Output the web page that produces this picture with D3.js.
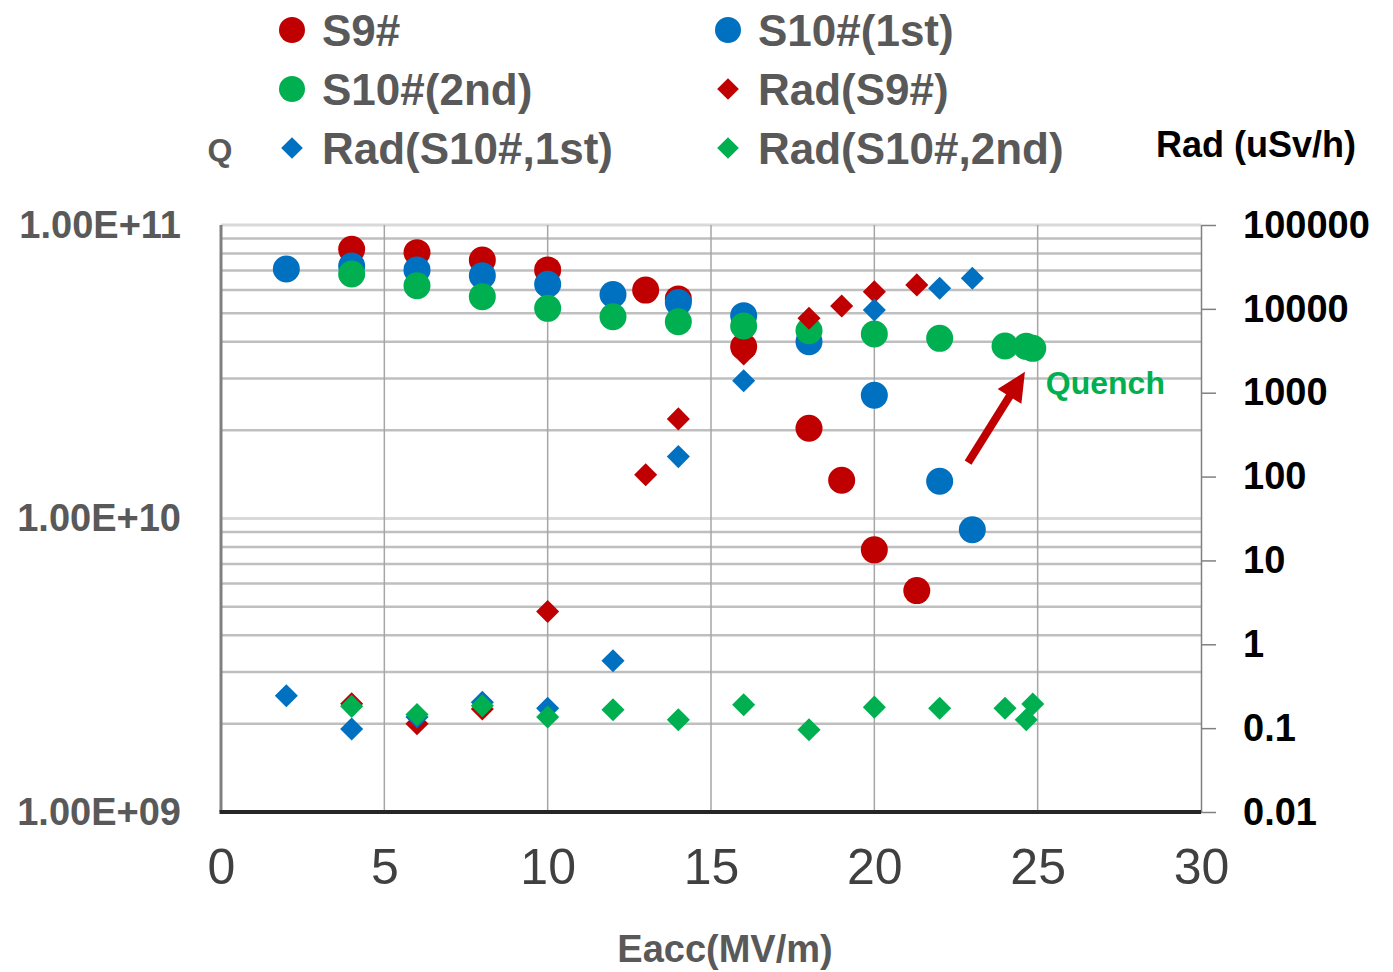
<!DOCTYPE html>
<html>
<head>
<meta charset="utf-8">
<script src="https://cdn.jsdelivr.net/npm/d3@7"></script>
<style>
  body { margin: 0; background: #fff; }
  svg text { font-family: "Liberation Sans", Arial, sans-serif; }
</style>
</head>
<body>
<div id="chart"></div>
<script>
// Eacc (MV/m) and Q0 values
const s9X = [4, 6, 8, 10, 13, 14, 16, 18, 19, 20, 21.3];
const s9Q = [8.26e10, 8.05e10, 7.6e10, 7.03e10, 6.0e10, 5.6e10, 3.85e10, 2.03e10, 1.35e10, 7.82e9, 5.68e9];

const s10aX = [2, 4, 6, 8, 10, 12, 14, 16, 18, 20, 22, 23];
const s10aQ = [7.08e10, 7.25e10, 7.03e10, 6.72e10, 6.28e10, 5.8e10, 5.44e10, 4.91e10, 4.0e10, 2.63e10, 1.34e10, 9.15e9];

const s10bX = [4, 6, 8, 10, 12, 14, 16, 18, 20, 22, 24, 24.65, 24.85];
const s10bQ = [6.81e10, 6.21e10, 5.7e10, 5.2e10, 4.87e10, 4.68e10, 4.53e10, 4.36e10, 4.25e10, 4.11e10, 3.87e10, 3.86e10, 3.8e10];

// radiation (uSv/h)
const radS9X = [4, 6, 8, 10, 13, 14, 16, 18, 19, 20, 21.3];
const radS9 = [0.195, 0.113, 0.169, 2.46, 105, 487, 2900, 7730, 10800, 16000, 19300];

const radS10aX = [2, 4, 6, 8, 10, 12, 14, 16, 20, 22, 23];
const radS10a = [0.243, 0.0975, 0.136, 0.203, 0.173, 0.635, 173, 1390, 9700, 17600, 23200];

const radS10bX = [4, 6, 8, 10, 12, 14, 16, 18, 20, 22, 24, 24.65, 24.85];
const radS10b = [0.182, 0.145, 0.185, 0.136, 0.166, 0.126, 0.19, 0.0958, 0.178, 0.173, 0.173, 0.126, 0.194];

const xTicks = [0, 5, 10, 15, 20, 25, 30];
const qTicks = [1e9, 1e10, 1e11];
const radTicks = [0.01, 0.1, 1, 10, 100, 1000, 10000, 100000];

const series = [
  {name: 'S9#', x: s9X, y: s9Q, axis: 'q', shape: 'circle', color: '#c00000'},
  {name: 'S10#(1st)', x: s10aX, y: s10aQ, axis: 'q', shape: 'circle', color: '#0070c0'},
  {name: 'S10#(2nd)', x: s10bX, y: s10bQ, axis: 'q', shape: 'circle', color: '#00b050'},
  {name: 'Rad(S9#)', x: radS9X, y: radS9, axis: 'r', shape: 'diamond', color: '#c00000'},
  {name: 'Rad(S10#,1st)', x: radS10aX, y: radS10a, axis: 'r', shape: 'diamond', color: '#0070c0'},
  {name: 'Rad(S10#,2nd)', x: radS10bX, y: radS10b, axis: 'r', shape: 'diamond', color: '#00b050'},
];

// quench annotation (data space)
const arrowFrom = [22.87, 1.55e10];
const arrowTo = [24.61, 3.16e10];
const quenchAt = [25.25, 2.9e10];

const W = 1393, H = 972;
const plotL = 221, plotR = 1201, plotT = 225, plotB = 812;

const svg = d3.select('#chart').append('svg')
    .attr('width', W).attr('height', H);

const x = d3.scaleLinear().domain([0, 30]).range([plotL, plotR]);
const yQ = d3.scaleLog().domain([1e9, 1e11]).range([plotB, plotT]);
const yR = d3.scaleLog().domain([0.01, 100000]).range([plotB, plotT]);

// horizontal grid (minor lines from Q axis)
svg.append('g').selectAll('line')
    .data(yQ.ticks().filter(d => d > 1e9))
    .join('line')
    .attr('x1', plotL).attr('x2', plotR)
    .attr('y1', d => yQ(d)).attr('y2', d => yQ(d))
    .attr('stroke', d => qTicks.includes(d) ? '#d9d9d9' : '#bfbfbf')
    .attr('stroke-width', d => qTicks.includes(d) ? 3 : 2.5);

// vertical grid
svg.append('g').selectAll('line')
    .data(xTicks.filter(d => d > 0 && d < 30))
    .join('line')
    .attr('x1', d => x(d)).attr('x2', d => x(d))
    .attr('y1', plotT).attr('y2', plotB)
    .attr('stroke', '#a6a6a6').attr('stroke-width', 1.5);

// left axis
svg.append('line')
    .attr('x1', plotL).attr('x2', plotL).attr('y1', plotT).attr('y2', plotB)
    .attr('stroke', '#808080').attr('stroke-width', 3);
const qAxis = svg.append('g')
    .attr('transform', `translate(${plotL},0)`)
    .call(d3.axisLeft(yQ).tickValues(qTicks).tickSize(0).tickPadding(40)
        .tickFormat(d => '1.00E+' + String(Math.round(Math.log10(d))).padStart(2, '0')));
qAxis.select('.domain').remove();
qAxis.selectAll('text')
    .attr('font-size', 38).attr('font-weight', 'bold').attr('fill', '#595959')
    .attr('font-family', '"Liberation Sans", Arial, sans-serif');

// right axis
const rAxis = svg.append('g')
    .attr('transform', `translate(${plotR},0)`)
    .call(d3.axisRight(yR).tickValues(radTicks).tickSize(15).tickSizeOuter(0).tickPadding(27)
        .tickFormat(d => String(d)));
rAxis.select('.domain').attr('stroke', '#808080').attr('stroke-width', 1.5);
rAxis.selectAll('.tick line').attr('stroke', '#808080').attr('stroke-width', 1.5);
rAxis.selectAll('text')
    .attr('font-size', 38).attr('font-weight', 'bold').attr('fill', '#000')
    .attr('font-family', '"Liberation Sans", Arial, sans-serif');

// bottom axis
const xAxis = svg.append('g')
    .attr('transform', `translate(0,${plotB})`)
    .call(d3.axisBottom(x).tickValues(xTicks).tickSize(0).tickPadding(36).tickFormat(d3.format('d')));
xAxis.select('.domain').remove();
xAxis.selectAll('text')
    .attr('font-size', 50).attr('fill', '#404040')
    .attr('font-family', '"Liberation Sans", Arial, sans-serif');
svg.append('line')
    .attr('x1', plotL - 1.5).attr('x2', plotR).attr('y1', plotB).attr('y2', plotB)
    .attr('stroke', '#262626').attr('stroke-width', 4);

// marks
const diamond = d3.symbol().type(d3.symbolDiamond2);
series.forEach(s => {
  const ys = s.axis === 'q' ? yQ : yR;
  const pts = s.x.map((v, i) => [v, s.y[i]]);
  const g = svg.append('g');
  if (s.shape === 'circle') {
    g.selectAll('circle').data(pts).join('circle')
        .attr('cx', d => x(d[0])).attr('cy', d => ys(d[1]))
        .attr('r', 13.5).attr('fill', s.color);
  } else {
    g.selectAll('path').data(pts).join('path')
        .attr('d', diamond.size(340))
        .attr('transform', d => `translate(${x(d[0])},${ys(d[1])})`)
        .attr('fill', s.color);
  }
});

// quench arrow
const ax0 = x(arrowFrom[0]), ay0 = yQ(arrowFrom[1]);
const ax1 = x(arrowTo[0]), ay1 = yQ(arrowTo[1]);
const ang = Math.atan2(ay1 - ay0, ax1 - ax0);
const headLen = 29, headHalf = 14;
const bx = ax1 - headLen * Math.cos(ang), by = ay1 - headLen * Math.sin(ang);
svg.append('line')
    .attr('x1', ax0).attr('y1', ay0).attr('x2', bx + 2 * Math.cos(ang)).attr('y2', by + 2 * Math.sin(ang))
    .attr('stroke', '#c00000').attr('stroke-width', 8);
svg.append('path')
    .attr('d', d3.line()([
      [ax1, ay1],
      [bx + headHalf * Math.sin(ang), by - headHalf * Math.cos(ang)],
      [bx - headHalf * Math.sin(ang), by + headHalf * Math.cos(ang)]
    ]) + 'Z')
    .attr('fill', '#c00000');
svg.append('text')
    .attr('x', x(quenchAt[0])).attr('y', yQ(quenchAt[1]))
    .attr('dy', '0.35em')
    .attr('font-size', 32).attr('font-weight', 'bold').attr('fill', '#00b050')
    .text('Quench');

// legend
const legCols = [292, 728];
const legRows = [30, 89, 148];
series.forEach((s, i) => {
  const cx = legCols[i % 2], cy = legRows[Math.floor(i / 2)];
  if (s.shape === 'circle') {
    svg.append('circle').attr('cx', cx).attr('cy', cy).attr('r', 13).attr('fill', s.color);
  } else {
    svg.append('path').attr('d', d3.symbol().type(d3.symbolDiamond2).size(300)())
        .attr('transform', `translate(${cx},${cy})`).attr('fill', s.color);
  }
  svg.append('text')
      .attr('x', cx + 30).attr('y', cy).attr('dy', '0.36em')
      .attr('font-size', 44).attr('font-weight', 'bold').attr('fill', '#595959')
      .text(s.name);
});

// axis titles
svg.append('text')
    .attr('x', 220).attr('y', 161).attr('text-anchor', 'middle')
    .attr('font-size', 32).attr('font-weight', 'bold').attr('fill', '#595959')
    .text('Q');
svg.append('text')
    .attr('x', 1256).attr('y', 157).attr('text-anchor', 'middle')
    .attr('font-size', 36).attr('font-weight', 'bold').attr('fill', '#000')
    .text('Rad (uSv/h)');
svg.append('text')
    .attr('x', 725).attr('y', 962).attr('text-anchor', 'middle')
    .attr('font-size', 38).attr('font-weight', 'bold').attr('fill', '#595959')
    .text('Eacc(MV/m)');
</script>
</body>
</html>
